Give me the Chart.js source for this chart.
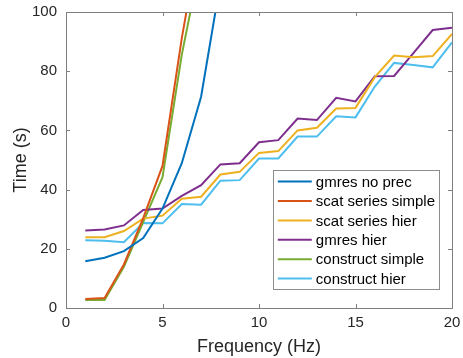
<!DOCTYPE html>
<html>
<head>
<meta charset="utf-8">
<script src="https://cdn.jsdelivr.net/npm/chart.js@4.4.0/dist/chart.umd.min.js"></script>
<style>
  html, body { margin: 0; padding: 0; background: #fff; }
  #wrap { width: 463px; height: 358px; }
</style>
</head>
<body>
<div id="wrap"><canvas id="timeChart" width="463" height="358"></canvas></div>
<script>
// frekuensi (Hz) dan waktu (s) per metode
const freq = [1, 2, 3, 4, 5, 6, 7, 8, 9, 10, 11, 12, 13, 14, 15, 16, 17, 18, 19, 20];
const gmresNoPrec     = [15.8, 17.0, 19.2, 23.6, 33.6, 48.9, 71.4, 110];
const scatSimple      = [3.0, 3.4, 14.7, 30.4, 48.0, 91.2, 128];
const scatHier        = [23.9, 23.9, 26.0, 30.2, 31.2, 36.9, 37.6, 45.1, 46.0, 52.4, 53.0, 60.0, 60.9, 67.4, 67.6, 78.0, 85.3, 84.7, 85.1, 92.6];
const gmresHier       = [26.2, 26.5, 27.9, 33.1, 33.6, 37.9, 41.5, 48.5, 48.9, 56.0, 56.7, 64.0, 63.5, 71.0, 69.8, 78.3, 78.4, 86.1, 93.9, 94.7];
const constructSimple = [2.7, 2.7, 13.9, 29.0, 44.2, 85.6, 118];
const constructHier   = [22.9, 22.7, 22.2, 28.7, 28.6, 35.1, 34.9, 43.0, 43.2, 50.5, 50.5, 57.9, 57.9, 64.8, 64.4, 74.8, 82.8, 82.1, 81.3, 89.7];

const seriesNames  = ['gmres no prec', 'scat series simple', 'scat series hier', 'gmres hier', 'construct simple', 'construct hier'];
const seriesValues = [gmresNoPrec, scatSimple, scatHier, gmresHier, constructSimple, constructHier];
const seriesColors = ['#0072BD', '#D95319', '#EDB120', '#7E2F8E', '#77AC30', '#4DBEEE'];

const xTicks = [0, 5, 10, 15, 20];
const yTicks = [0, 20, 40, 60, 80, 100];

const FONT = "'Liberation Sans', Arial, Helvetica, sans-serif";
const TEXT = '#262626';
const AXIS = '#7f7f7f';

const datasets = seriesValues.map((vals, i) => ({
    label: seriesNames[i],
    data: vals.map((v, j) => ({ x: freq[j], y: v })),
    borderColor: seriesColors[i],
    backgroundColor: seriesColors[i],
    borderWidth: 2,
    pointRadius: 0,
    tension: 0,
    fill: false
}));

// kotak sumbu + tick ke dalam (gaya MATLAB)
const boxPlugin = {
    id: 'boxTicks',
    afterDatasetsDraw(chart) {
        const { ctx, chartArea: a, scales } = chart;
        ctx.save();
        ctx.strokeStyle = AXIS;
        ctx.lineWidth = 1;
        ctx.strokeRect(a.left + 0.5, a.top + 0.5, a.right - a.left, a.bottom - a.top);
        const len = 4;
        ctx.beginPath();
        xTicks.forEach(t => {
            const x = Math.round(scales.x.getPixelForValue(t)) + 0.5;
            ctx.moveTo(x, a.bottom); ctx.lineTo(x, a.bottom - len);
            ctx.moveTo(x, a.top); ctx.lineTo(x, a.top + len);
        });
        yTicks.forEach(t => {
            const y = Math.round(scales.y.getPixelForValue(t)) + 0.5;
            ctx.moveTo(a.left, y); ctx.lineTo(a.left + len, y);
            ctx.moveTo(a.right, y); ctx.lineTo(a.right - len, y);
        });
        ctx.stroke();
        ctx.restore();
    }
};

// legenda di dalam area plot, pojok kanan bawah
const legendPlugin = {
    id: 'insideLegend',
    afterDraw(chart) {
        const { ctx, chartArea: a } = chart;
        ctx.save();
        ctx.font = '15px ' + FONT;
        const maxW = Math.max(...seriesNames.map(n => ctx.measureText(n).width));
        const rowH = 19.4, lineLen = 34;
        const w = 5 + lineLen + 4 + maxW + 4;
        const h = rowH * seriesNames.length + 3;
        const right = a.right - 13, bottom = a.bottom - 19;
        const left = right - w, top = bottom - h;
        ctx.fillStyle = '#fff';
        ctx.fillRect(left, top, w, h);
        ctx.strokeStyle = '#8c8c8c';
        ctx.lineWidth = 1;
        ctx.strokeRect(Math.round(left) + 0.5, Math.round(top) + 0.5, Math.round(w), Math.round(h));
        ctx.textBaseline = 'middle';
        seriesNames.forEach((n, i) => {
            const y = top + 12 + i * rowH;
            ctx.strokeStyle = seriesColors[i];
            ctx.lineWidth = 2;
            ctx.beginPath();
            ctx.moveTo(left + 5, y);
            ctx.lineTo(left + 5 + lineLen, y);
            ctx.stroke();
            ctx.fillStyle = '#000';
            ctx.fillText(n, left + 5 + lineLen + 4, y + 1);
        });
        ctx.restore();
    }
};

new Chart(document.getElementById('timeChart').getContext('2d'), {
    type: 'line',
    data: { datasets: datasets },
    options: {
        responsive: false,
        devicePixelRatio: 1,
        animation: false,
        layout: { padding: { top: 12, right: 11, left: 0, bottom: 0 } },
        plugins: { legend: { display: false }, tooltip: { enabled: false } },
        scales: {
            x: {
                type: 'linear', min: 0, max: 20,
                afterBuildTicks: s => { s.ticks = xTicks.map(v => ({ value: v })); },
                afterFit: s => { s.height = 50; s.paddingLeft = 0; s.paddingRight = 0; },
                grid: { display: false, drawTicks: false },
                border: { display: false },
                ticks: { font: { family: FONT, size: 15 }, color: TEXT, padding: 6, maxRotation: 0 },
                title: { display: true, text: 'Frequency (Hz)', font: { family: FONT, size: 18 }, color: TEXT, padding: { top: -4, bottom: 0 } }
            },
            y: {
                min: 0, max: 100,
                afterBuildTicks: s => { s.ticks = yTicks.map(v => ({ value: v })); },
                afterFit: s => { s.width = 66; s.paddingTop = 0; s.paddingBottom = 0; },
                grid: { display: false, drawTicks: false },
                border: { display: false },
                ticks: { font: { family: FONT, size: 15 }, color: TEXT, padding: 9 },
                title: { display: true, text: 'Time (s)', font: { family: FONT, size: 18 }, color: TEXT, padding: { top: 10, bottom: 0 } }
            }
        }
    },
    plugins: [boxPlugin, legendPlugin]
});
</script>
</body>
</html>
